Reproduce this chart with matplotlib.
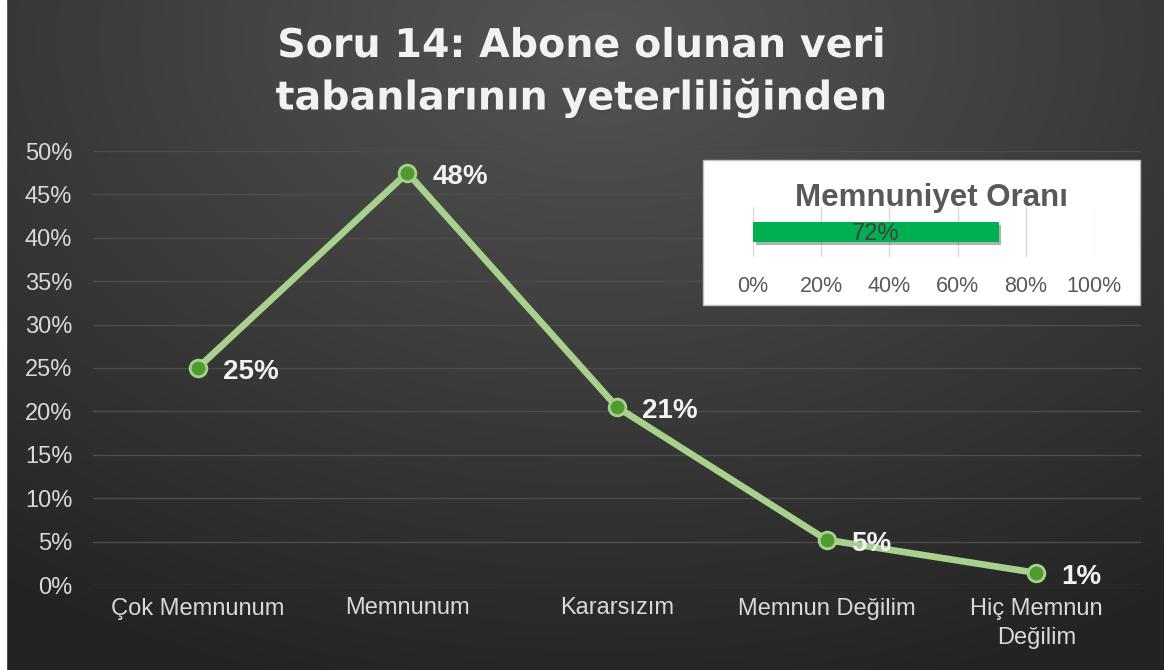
import matplotlib.pyplot as plt
import matplotlib.patheffects as pe
from matplotlib.patches import Rectangle
import numpy as np

# data
categories = ['Çok Memnunum', 'Memnunum', 'Kararsızım', 'Memnun Değilim', 'Hiç Memnun\nDeğilim']
values = [0.25, 0.475, 0.205, 0.052, 0.014]
labels = ['25%', '48%', '21%', '5%', '1%']
yticks = [0, 0.05, 0.10, 0.15, 0.20, 0.25, 0.30, 0.35, 0.40, 0.45, 0.50]
sat_value = 0.72
sat_ticks = [0, 0.2, 0.4, 0.6, 0.8, 1.0]

plt.rcParams['font.family'] = ['Liberation Sans', 'DejaVu Sans']

fig = plt.figure(figsize=(11.64, 6.7), dpi=100)

# background: dark with a lighter glow at top centre
bg = fig.add_axes([0, 0, 1, 1], zorder=-10)
yy, xx = np.mgrid[0:670, 0:1164]
d = np.sqrt(((xx - 600) / 900.0) ** 2 + ((yy - 40) / 600.0) ** 2)
v = np.clip(0.33 - 0.17 * d, 0.14, 0.33)
bg.imshow(np.dstack([v, v, v]), extent=[0, 1164, 670, 0], aspect='auto')
bg.add_patch(Rectangle((0, 0), 6, 670, color='white'))
bg.set_xlim(0, 1164)
bg.set_ylim(670, 0)
bg.axis('off')

# main line chart
ax = fig.add_axes([93 / 1164, 1 - 585 / 670, (1141 - 93) / 1164, (585 - 151) / 670])
ax.patch.set_alpha(0)
x = np.arange(len(categories))
ax.plot(x, values, color='#a9d18e', lw=4.8, zorder=3,
        marker='o', markersize=12, markerfacecolor='#4f9a31',
        markeredgecolor='#a9d18e', markeredgewidth=2)
for xi, yi, lab in zip(x, values, labels):
    ax.annotate(lab, (xi, yi), xytext=(18, -3), textcoords='offset points',
                ha='left', va='center', color='#f2f2f2', fontsize=20,
                fontweight='bold', zorder=4)

ax.set_xlim(-0.5, len(categories) - 0.5)
ax.set_ylim(0, 0.5)
ax.set_yticks(yticks)
ax.set_yticklabels([f'{int(round(t * 100))}%' for t in yticks])
ax.set_xticks(x)
ax.set_xticklabels(categories, linespacing=1.45)
ax.grid(axis='y', color='#4d4d4d', lw=1)
ax.set_axisbelow(True)
for s in ax.spines.values():
    s.set_visible(False)
ax.tick_params(length=0, colors='#d9d9d9', labelsize=17)
ax.tick_params(axis='y', pad=15)
ax.tick_params(axis='x', pad=9)

# title
title_fx = [pe.SimplePatchShadow(offset=(2, -2), alpha=0.6), pe.Normal()]
fig.text(0.5, 1 - 46 / 670, 'Soru 14: Abone olunan veri', ha='center', va='center',
         color='#f2f2f2', fontsize=28.5, fontweight='bold', family='DejaVu Sans',
         path_effects=title_fx)
fig.text(0.5, 1 - 98 / 670, 'tabanlarının yeterliliğinden', ha='center', va='center',
         color='#f2f2f2', fontsize=28.5, fontweight='bold', family='DejaVu Sans',
         path_effects=title_fx)

# inset: satisfaction rate
box = Rectangle((703 / 1164, 1 - 305 / 670), 437 / 1164, 145 / 670, transform=fig.transFigure,
                facecolor='white', edgecolor='#bfbfbf', lw=1, zorder=4)
fig.add_artist(box)
ins = fig.add_axes([753 / 1164, 1 - 257 / 670, (1094 - 753) / 1164, (257 - 207) / 670], zorder=5)
ins.patch.set_alpha(0)
ins.barh([0], [sat_value], height=0.4, color='#00b050',
         path_effects=[pe.SimplePatchShadow(offset=(2, -2), alpha=0.35), pe.Normal()])
ins.text(sat_value / 2, -0.03, f'{int(sat_value * 100)}%', ha='center', va='center',
         color='#404040', fontsize=17)
ins.set_xlim(0, 1)
ins.set_ylim(-0.5, 0.5)
ins.set_xticks(sat_ticks)
ins.set_xticklabels([f'{int(t * 100)}%' for t in sat_ticks])
ins.set_yticks([])
ins.grid(axis='x', color='#d9d9d9', lw=1)
ins.set_axisbelow(True)
for s in ins.spines.values():
    s.set_visible(False)
ins.tick_params(length=0, colors='#595959', labelsize=15.5, pad=14)
fig.text(931 / 1164, 1 - 198 / 670, 'Memnuniyet Oranı', ha='center', va='center',
         color='#595959', fontsize=22.5, fontweight='bold', zorder=6)

fig.savefig('out.png', dpi=100)
